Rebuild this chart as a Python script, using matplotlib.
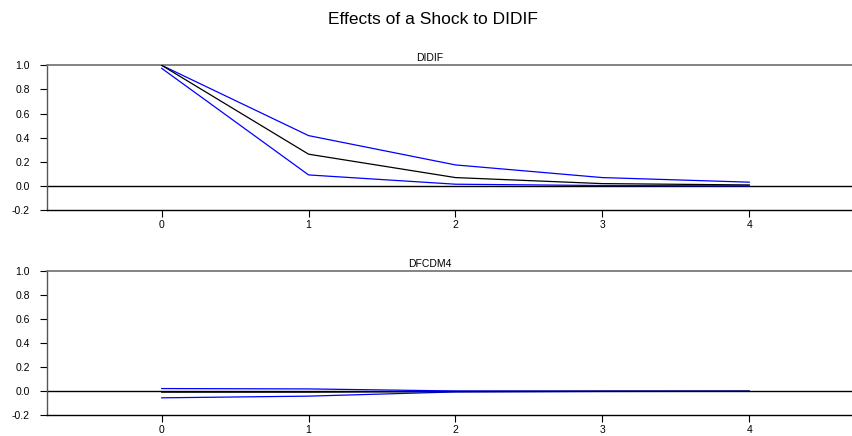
import matplotlib.pyplot as plt

plt.rcParams['font.family'] = ['Liberation Sans', 'DejaVu Sans']

# impulse response horizons
steps = [0, 1, 2, 3, 4]

# response of DIDIF to a DIDIF shock
didif_mid = [1.0, 0.263, 0.069, 0.019, 0.008]
didif_upper = [1.0, 0.417, 0.174, 0.069, 0.031]
didif_lower = [0.975, 0.091, 0.014, 0.003, 0.0]

# response of DFCDM4 to a DIDIF shock
dfcdm4_mid = [-0.008, -0.008, -0.003, -0.001, 0.0]
dfcdm4_upper = [0.022, 0.019, 0.002, 0.001, 0.0]
dfcdm4_lower = [-0.055, -0.041, -0.006, -0.002, -0.001]

panels = [
    ("DIDIF", didif_mid, didif_upper, didif_lower),
    ("DFCDM4", dfcdm4_mid, dfcdm4_upper, dfcdm4_lower),
]

fig = plt.figure(figsize=(8.53, 4.36), dpi=100)
fig.suptitle("Effects of a Shock to DIDIF", fontsize=12.5, x=0.508, y=0.972)

boxes = [[0.0547, 0.5183, 0.9453, 0.3319],
         [0.0547, 0.0475, 0.9453, 0.3315]]

for box, (name, mid, upper, lower) in zip(boxes, panels):
    ax = fig.add_axes(box)
    ax.axhline(0, color='black', lw=1.0, zorder=1)
    ax.plot(steps, upper, color='#0000ff', lw=0.9, zorder=2)
    ax.plot(steps, lower, color='#0000ff', lw=0.9, zorder=2)
    ax.plot(steps, mid, color='black', lw=0.9, zorder=3)
    ax.set_xlim(-0.783, 4.706)
    ax.set_ylim(-0.2, 1.0)
    ax.set_xticks(steps)
    ax.set_yticks([-0.2, 0.0, 0.2, 0.4, 0.6, 0.8, 1.0])
    ax.yaxis.set_major_formatter(plt.FormatStrFormatter('%.1f'))
    ax.tick_params(labelsize=7.5, length=5, width=0.8)
    ax.tick_params(axis='y', pad=7)
    ax.tick_params(axis='x', pad=2)
    ax.spines['right'].set_visible(False)
    ax.spines['top'].set_color('#6e6e6e')
    ax.spines['top'].set_linewidth(1.2)
    ax.spines['left'].set_color('#555555')
    ax.spines['left'].set_linewidth(1.0)
    ax.spines['bottom'].set_color('black')
    ax.spines['bottom'].set_linewidth(1.0)
    ax.set_title(name, fontsize=7.5, pad=3, x=0.475)

fig.savefig('out.png', dpi=100)
